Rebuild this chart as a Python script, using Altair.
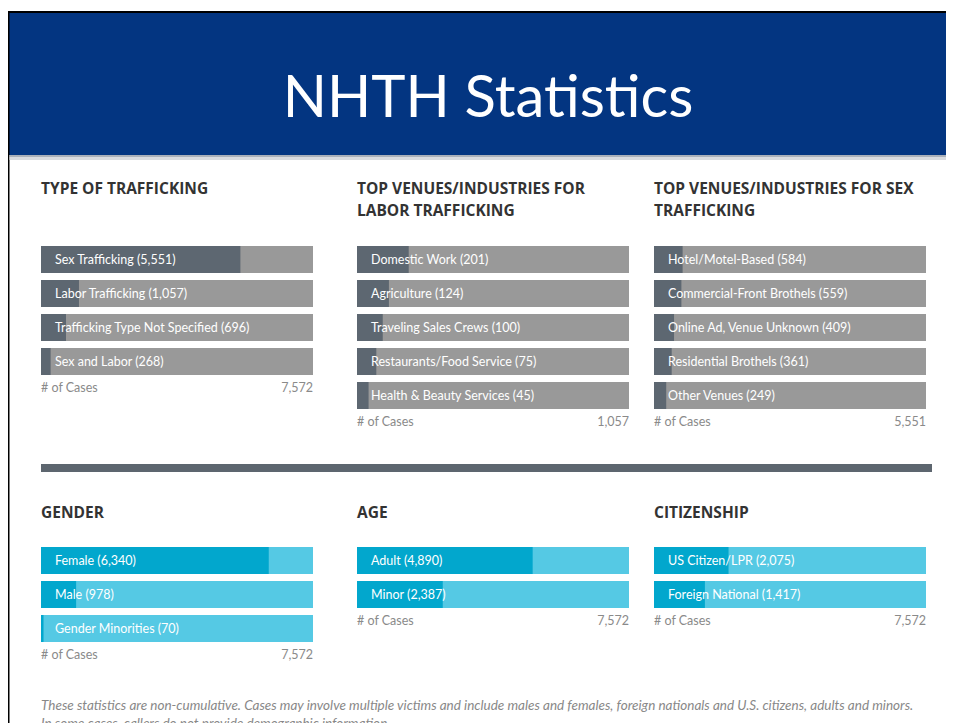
import altair as alt
import pandas as pd

# ---------------- data ----------------
type_cats = ["Sex Trafficking", "Labor Trafficking", "Trafficking Type Not Specified", "Sex and Labor"]
type_vals = [5551, 1057, 696, 268]
type_total = 7572

labor_cats = ["Domestic Work", "Agriculture", "Traveling Sales Crews",
              "Restaurants/Food Service", "Health & Beauty Services"]
labor_vals = [201, 124, 100, 75, 45]
labor_total = 1057

sex_cats = ["Hotel/Motel-Based", "Commercial-Front Brothels", "Online Ad, Venue Unknown",
            "Residential Brothels", "Other Venues"]
sex_vals = [584, 559, 409, 361, 249]
sex_total = 5551

gender_cats = ["Female", "Male", "Gender Minorities"]
gender_vals = [6340, 978, 70]
gender_total = 7572

age_cats = ["Adult", "Minor"]
age_vals = [4890, 2387]
age_total = 7572

cit_cats = ["US Citizen/LPR", "Foreign National"]
cit_vals = [2075, 1417]
cit_total = 7572

header_title = "NHTH Statistics"
footer_lines = [
    "These statistics are non-cumulative. Cases may involve multiple victims and include males and females, foreign nationals and U.S. citizens, adults and minors.",
    "In some cases, callers do not provide demographic information.",
]

# ---------------- style ----------------
W, H = 938, 715
BAR_W = 272
STEP = 34
GAP = 7
GRAY_DARK = "#5d6771"
GRAY_LIGHT = "#999999"
BLUE_DARK = "#02a7cd"
BLUE_LIGHT = "#55c9e4"
FONT = "Lato"
TITLE_FONT = "Open Sans"


def panel(cats, vals, total, title_lines, x0, title_y, y0, dark, light):
    n = len(cats)
    df = pd.DataFrame({
        "cat": cats,
        "value": vals,
        "zero": [0] * n,
        "total": [total] * n,
        "label": [f"{c} ({v:,})" for c, v in zip(cats, vals)],
    })
    xs = alt.Scale(domain=[0, total], range=[x0, x0 + BAR_W])
    ys = alt.Scale(domain=cats, range=[y0, y0 + STEP * n - GAP],
                   paddingInner=GAP / STEP, paddingOuter=0)
    X = lambda f: alt.X(f, type="quantitative", scale=xs, axis=None)
    Y = alt.Y("cat:N", scale=ys, axis=None, sort=cats)
    base = alt.Chart(df)
    bg = base.mark_bar(color=light).encode(x=X("zero"), x2="total:Q", y=Y)
    fg = base.mark_bar(color=dark).encode(x=X("zero"), x2="value:Q", y=Y)
    lab = base.mark_text(align="left", dx=14, color="white", font=FONT,
                         fontSize=12.5, baseline="middle").encode(
        x=X("zero"), y=Y, text="label:N")

    tdf = pd.DataFrame({"t": ["\n".join(title_lines)]})
    titles = alt.Chart(tdf).mark_text(
        align="left", baseline="alphabetic", font=TITLE_FONT, fontWeight="bold",
        fontSize=15.5, color="#333333", lineBreak="\n", lineHeight=22).encode(
        x=alt.value(x0), y=alt.value(title_y), text="t:N")

    foot_y = y0 + STEP * n - GAP + 17
    fdf = pd.DataFrame({"zero": [0], "total": [total], "name": ["# of Cases"],
                        "tot": [f"{total:,}"]})
    fl = alt.Chart(fdf).mark_text(align="left", baseline="alphabetic", font=FONT,
                                  fontSize=12.5, color="#8a8a8a").encode(
        x=X("zero"), y=alt.value(foot_y), text="name:N")
    fr = alt.Chart(fdf).mark_text(align="right", baseline="alphabetic", font=FONT,
                                  fontSize=12.5, color="#8a8a8a").encode(
        x=X("total"), y=alt.value(foot_y), text="tot:N")
    return alt.layer(bg, fg, lab, titles, fl, fr)


one = pd.DataFrame({"a": [0]})

# header decorations
border_top = alt.Chart(one).mark_rect(color="#000000").encode(
    x=alt.value(0), x2=alt.value(W), y=alt.value(3), y2=alt.value(147))
border_left = alt.Chart(one).mark_rect(color="#000000").encode(
    x=alt.value(0), x2=alt.value(1.5), y=alt.value(3), y2=alt.value(H))
blue = alt.Chart(one).mark_rect(color="#033581").encode(
    x=alt.value(1.5), x2=alt.value(W), y=alt.value(5), y2=alt.value(147))
shadow1 = alt.Chart(one).mark_rect(color="#aab0ba").encode(
    x=alt.value(1.5), x2=alt.value(W), y=alt.value(147), y2=alt.value(149))
shadow2 = alt.Chart(one).mark_rect(color="#d9dbdf").encode(
    x=alt.value(1.5), x2=alt.value(W), y=alt.value(149), y2=alt.value(152))
hdf = pd.DataFrame({"t": [header_title]})
htext = alt.Chart(hdf).mark_text(font=FONT, fontSize=58, fontWeight="normal", color="white",
                                 align="center", baseline="alphabetic").encode(
    x=alt.value(480), y=alt.value(109), text="t:N")

divider = alt.Chart(one).mark_rect(color="#5d666f").encode(
    x=alt.value(33), x2=alt.value(924), y=alt.value(456), y2=alt.value(464))

ftdf = pd.DataFrame({"t": ["\n".join(footer_lines)]})
footer = alt.Chart(ftdf).mark_text(font=FONT, fontSize=13.5, fontStyle="italic",
                                   color="#888888", align="left", baseline="alphabetic",
                                   lineBreak="\n", lineHeight=18).encode(
    x=alt.value(33), y=alt.value(702), text="t:N")

p1 = panel(type_cats, type_vals, type_total, ["TYPE OF TRAFFICKING"], 33, 186, 238, GRAY_DARK, GRAY_LIGHT)
p2 = panel(labor_cats, labor_vals, labor_total, ["TOP VENUES/INDUSTRIES FOR", "LABOR TRAFFICKING"],
           349, 186, 238, GRAY_DARK, GRAY_LIGHT)
p3 = panel(sex_cats, sex_vals, sex_total, ["TOP VENUES/INDUSTRIES FOR SEX", "TRAFFICKING"],
           646, 186, 238, GRAY_DARK, GRAY_LIGHT)
p4 = panel(gender_cats, gender_vals, gender_total, ["GENDER"], 33, 510, 539, BLUE_DARK, BLUE_LIGHT)
p5 = panel(age_cats, age_vals, age_total, ["AGE"], 349, 510, 539, BLUE_DARK, BLUE_LIGHT)
p6 = panel(cit_cats, cit_vals, cit_total, ["CITIZENSHIP"], 646, 510, 539, BLUE_DARK, BLUE_LIGHT)

chart = alt.layer(
    border_top, border_left, blue, shadow1, shadow2, htext, divider, footer,
    p1, p2, p3, p4, p5, p6,
).resolve_scale(x="independent", y="independent").properties(
    width=W, height=H, autosize=alt.AutoSizeParams(type="none"), padding=0,
    background="white",
).configure_view(stroke=None)

chart.save("out.html", embed_options={"renderer": "svg", "actions": False})
